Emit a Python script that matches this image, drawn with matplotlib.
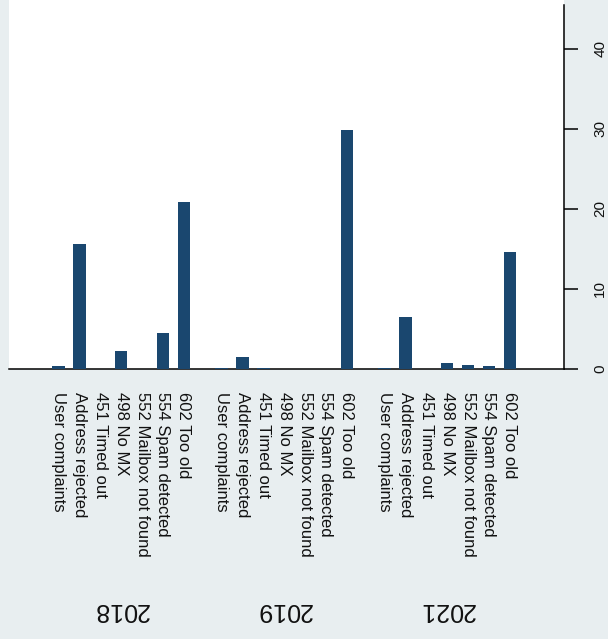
import numpy as np
import matplotlib
matplotlib.use('Agg')
import matplotlib.pyplot as plt
import matplotlib.transforms as mtransforms

years = ['2018', '2019', '2021']
reasons = ['User complaints', 'Address rejected', '451 Timed out', '498 No MX',
           '552 Mailbox not found', '554 Spam detected', '602 Too old']
v2018 = [0.35, 15.6, 0, 2.2, 0, 4.5, 20.8]
v2019 = [0.1, 1.45, 0.05, 0, 0, 0, 29.8]
v2021 = [0.05, 6.5, 0, 0.7, 0.5, 0.3, 14.6]
yticks = [0, 10, 20, 30, 40]

plt.rcParams['font.family'] = ['Liberation Sans', 'DejaVu Sans']

bg = '#e8eef0'
navy = '#1a476f'
group_step = 7.8

fig = plt.figure(figsize=(6.08, 6.39), dpi=100, facecolor=bg)
ax = fig.add_axes([8.5 / 608, (639 - 368.5) / 639, (564 - 8.5) / 608, 368.5 / 639])
ax.set_facecolor('white')

pos_all = []
lab_all = []
for g, vals in enumerate([v2018, v2019, v2021]):
    pos = np.arange(len(reasons)) + g * group_step
    ax.bar(pos, vals, width=0.6, color=navy, zorder=3)
    pos_all.extend(pos)
    lab_all.extend(reasons)
    # group label, upside down
    trans = mtransforms.blended_transform_factory(ax.transData, fig.transFigure)
    ax.text(pos.mean(), (639 - 610) / 639, years[g], transform=trans,
            rotation=180, ha='center', va='center', fontsize=18, color='#111111')

ax.set_xlim(-2.39, 24.19)
ax.set_ylim(0, 368.5 / 8)

ax.set_xticks(pos_all)
ax.set_xticklabels(lab_all, rotation=-90, va='top', ha='center', fontsize=12,
                   color='#111111')
ax.tick_params(axis='x', length=0, pad=17)

ax.yaxis.tick_right()
ax.set_yticks(yticks)
ax.set_yticklabels([str(t) for t in yticks], rotation=90, va='center', ha='left',
                   fontsize=11, color='#111111')
ax.tick_params(axis='y', length=10, width=1.1, pad=11, direction='out')

ax.spines['left'].set_visible(False)
ax.spines['top'].set_visible(False)
ax.spines['right'].set_linewidth(1.1)
ax.spines['right'].set_bounds(0, (368.5 - 5) / 8)
ax.spines['bottom'].set_linewidth(1.1)

fig.savefig('out.png', dpi=100, facecolor=bg)
